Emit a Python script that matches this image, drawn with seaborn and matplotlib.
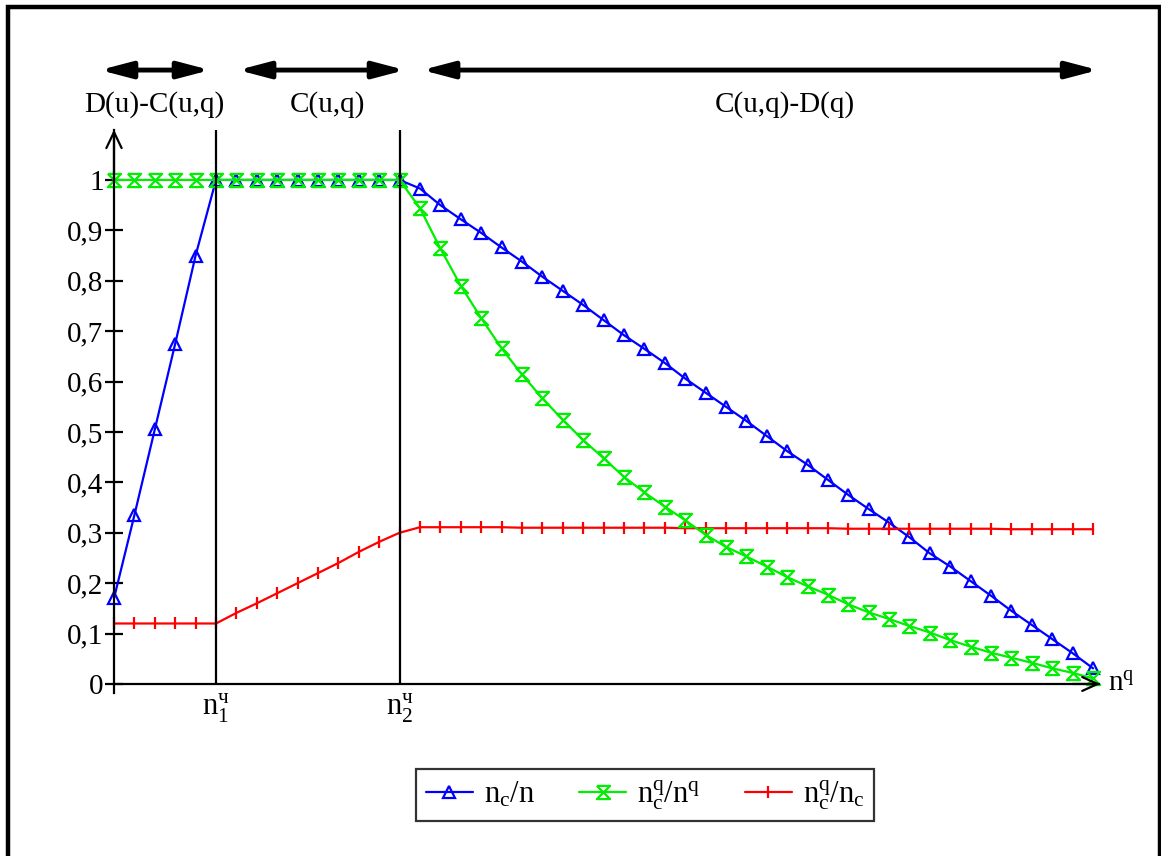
import matplotlib
matplotlib.use("Agg")
import matplotlib.pyplot as plt
import seaborn as sns
from matplotlib.patches import Rectangle

sns.set_theme(style="white")
plt.rcParams['font.family'] = ['Liberation Serif', 'DejaVu Serif']
plt.rcParams['mathtext.fontset'] = 'custom'
plt.rcParams['mathtext.rm'] = 'Liberation Serif'
plt.rcParams['mathtext.it'] = 'Liberation Serif:italic'
plt.rcParams['mathtext.bf'] = 'Liberation Serif:bold'

# ---------------- data ----------------
x_idx = list(range(49))

nc_n = [0.17, 0.335, 0.505, 0.675, 0.85, 1.0,
        1.0, 1.0, 1.0, 1.0, 1.0, 1.0, 1.0, 1.0, 1.0,
        0.983, 0.950, 0.922, 0.895, 0.866, 0.838, 0.808, 0.780, 0.752, 0.722,
        0.692, 0.665, 0.637, 0.606, 0.578, 0.550, 0.522, 0.492, 0.462, 0.435,
        0.405, 0.375, 0.347, 0.320, 0.291, 0.259, 0.233, 0.204, 0.175, 0.145,
        0.117, 0.089, 0.061, 0.031]

nqc_nq = [1.0] * 15 + [
        0.944, 0.864, 0.790, 0.726, 0.666, 0.614, 0.567, 0.524, 0.484, 0.448,
        0.411, 0.380, 0.352, 0.325, 0.296, 0.272, 0.253, 0.233, 0.212, 0.194,
        0.177, 0.158, 0.142, 0.129, 0.115, 0.102, 0.087, 0.074, 0.062, 0.052,
        0.042, 0.031, 0.022, 0.011]

nqc_nc = [0.12, 0.12, 0.12, 0.12, 0.12, 0.12,
          0.141, 0.160, 0.180, 0.200, 0.220, 0.240, 0.262, 0.282, 0.300,
          0.311, 0.311, 0.311, 0.311, 0.311, 0.310, 0.310, 0.310, 0.310, 0.310,
          0.310, 0.310, 0.310, 0.309, 0.309, 0.309, 0.309, 0.309, 0.309, 0.309,
          0.309, 0.308, 0.308, 0.308, 0.308, 0.308, 0.308, 0.308, 0.308, 0.307,
          0.307, 0.307, 0.307, 0.307]

series_labels = [r"$\mathrm{n_c/n}$", r"$\mathrm{n^q_c/n^q}$", r"$\mathrm{n^q_c/n_c}$"]
y_ticks = [0, 0.1, 0.2, 0.3, 0.4, 0.5, 0.6, 0.7, 0.8, 0.9, 1.0]
y_tick_labels = ["0", "0,1", "0,2", "0,3", "0,4", "0,5", "0,6", "0,7", "0,8", "0,9", "1"]
x_ticks = [5, 14]
x_tick_labels = [r"$\mathrm{n}_{1}^{\mathrm{ч}}$", r"$\mathrm{n}_{2}^{\mathrm{ч}}$"]
zone_labels = ["D(u)-C(u,q)", "C(u,q)", "C(u,q)-D(q)"]

# ---------------- figure ----------------
fig = plt.figure(figsize=(11.61, 8.56), dpi=100)
fig.patch.set_facecolor("white")
ax = fig.add_axes([0, 0, 1, 1])
ax.set_facecolor("white")

hourglass = [(-1, 1), (1, 1), (-1, -1), (1, -1), (-1, 1)]

sns.lineplot(x=x_idx, y=nc_n, ax=ax, color="#0000ff", lw=1.6, marker="^",
             markersize=9, markerfacecolor="none", markeredgecolor="#0000ff",
             markeredgewidth=1.6, label=series_labels[0])
sns.lineplot(x=x_idx, y=nqc_nc, ax=ax, color="#ff0000", lw=1.6, marker="|",
             markersize=9, markeredgecolor="#ff0000",
             markeredgewidth=1.6, label=series_labels[2])
sns.lineplot(x=x_idx, y=nqc_nq, ax=ax, color="#00ee00", lw=1.6, marker=hourglass,
             markersize=9.5, markerfacecolor="none", markeredgecolor="#00ee00",
             markeredgewidth=1.6, label=series_labels[1])

# region boundaries
ax.vlines(x_ticks, 0, 1.1, color="black", lw=1.6)

# limits mapping the data frame into the page
ax.set_xlim(-5.589, 51.33)
ax.set_ylim(-0.3413, 1.357)
ax.set_xlabel("")
ax.set_ylabel("")

# axes
for s in ["top", "right"]:
    ax.spines[s].set_visible(False)
ax.spines["left"].set_position(("data", 0))
ax.spines["bottom"].set_position(("data", 0))
ax.spines["left"].set_bounds(-0.018, 1.1)
ax.spines["bottom"].set_bounds(0, 48.3)
for s in ["left", "bottom"]:
    ax.spines[s].set_color("black")
    ax.spines[s].set_linewidth(1.6)

ax.set_yticks(y_ticks)
ax.set_yticklabels(y_tick_labels)
ax.set_xticks(x_ticks)
ax.set_xticklabels(x_tick_labels)
ax.tick_params(axis="y", left=True, direction="inout", length=13, width=1.6,
               color="black", labelsize=21, pad=1, labelcolor="black")
ax.tick_params(axis="x", bottom=True, length=0, labelsize=22, pad=6, labelcolor="black")

# axis arrow heads
ax.annotate("", xy=(0, 1.1), xytext=(0, 1.0),
            arrowprops=dict(arrowstyle="->,head_length=1.15,head_width=0.55",
                            lw=1.6, color="black", shrinkA=0, shrinkB=0,
                            mutation_scale=10))
ax.annotate("", xy=(48.35, 0), xytext=(47.0, 0),
            arrowprops=dict(arrowstyle="->,head_length=1.1,head_width=0.5",
                            lw=1.6, color="black", shrinkA=0, shrinkB=0,
                            mutation_scale=10))
ax.text(48.75, 0.0, r"$\mathrm{n^q}$", fontsize=21, ha="left", va="center", color="black")

# top zone arrows
zone_spans = [(-0.69, 4.71), (6.08, 14.27), (15.1, 48.25)]
zone_centers = [2.0, 10.44, 32.9]
for (a, b), c, lab in zip(zone_spans, zone_centers, zone_labels):
    ax.annotate("", xy=(b, 1.218), xytext=(a, 1.218),
                arrowprops=dict(arrowstyle="<|-|>,head_length=1.9,head_width=0.5",
                                lw=3.5, color="black", shrinkA=0, shrinkB=0,
                                mutation_scale=10))
    ax.text(c, 1.149, lab, fontsize=21, ha="center", va="center", color="black")

# legend (order: blue, green, red)
handles, labels = ax.get_legend_handles_labels()
order = [0, 2, 1]
leg = ax.legend([handles[i] for i in order], [labels[i] for i in order],
                loc="center", bbox_to_anchor=(0.5556, 0.0713),
                bbox_transform=fig.transFigure, ncol=3, fontsize=22,
                frameon=True, fancybox=False, handlelength=1.55,
                handletextpad=0.35, columnspacing=1.45, borderpad=0.3,
                borderaxespad=0)
leg.get_frame().set_edgecolor("black")
leg.get_frame().set_linewidth(1.6)
for t in leg.get_texts():
    t.set_color("black")

# page border
fig.add_artist(Rectangle((7.5 / 1161, -0.1), (1159.5 - 7.5) / 1161, 1.1 - 7.5 / 856,
                         transform=fig.transFigure, fill=False, lw=3.2,
                         edgecolor="black", clip_on=False))

fig.savefig("out.png", dpi=100)
